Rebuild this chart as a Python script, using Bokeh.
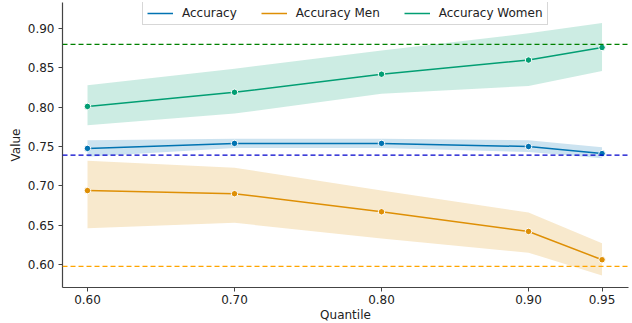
from bokeh.plotting import figure
from bokeh.models import FixedTicker, Legend, LegendItem, Span, NumeralTickFormatter, Range1d
from bokeh.embed import file_html
from bokeh.resources import INLINE

quantiles = [0.60, 0.70, 0.80, 0.90, 0.95]
quantile_labels = ["0.60", "0.70", "0.80", "0.90", "0.95"]

acc = [0.7476, 0.754, 0.754, 0.750, 0.741]
acc_lo = [0.737, 0.748, 0.748, 0.743, 0.735]
acc_hi = [0.758, 0.760, 0.760, 0.758, 0.749]

men = [0.694, 0.690, 0.667, 0.642, 0.606]
men_lo = [0.646, 0.653, 0.633, 0.615, 0.586]
men_hi = [0.732, 0.723, 0.694, 0.666, 0.627]

women = [0.801, 0.819, 0.842, 0.860, 0.876]
women_lo = [0.777, 0.792, 0.817, 0.827, 0.846]
women_hi = [0.828, 0.849, 0.872, 0.894, 0.907]

baseline_acc = 0.739
baseline_men = 0.5975
baseline_women = 0.880

y_ticks = [0.60, 0.65, 0.70, 0.75, 0.80, 0.85, 0.90]

FONT = "DejaVu Sans"
c_acc, c_men, c_women = "#0173b2", "#de8f05", "#029e73"
FRAME_H = 285

p = figure(frame_width=566, frame_height=FRAME_H, output_backend="svg", toolbar_location=None,
           x_range=Range1d(0.583, 0.968), y_range=Range1d(0.5707, 0.9332),
           min_border_left=62, min_border_right=4, min_border_top=2, min_border_bottom=30)
p.outline_line_color = None
p.xgrid.grid_line_color = None
p.ygrid.grid_line_color = None

series = [("Accuracy", acc, acc_lo, acc_hi, c_acc),
          ("Accuracy Men", men, men_lo, men_hi, c_men),
          ("Accuracy Women", women, women_lo, women_hi, c_women)]
items = []
for name, ys, lo, hi, col in series:
    p.varea(x=quantiles, y1=lo, y2=hi, fill_color=col, fill_alpha=0.2)
for name, ys, lo, hi, col in series:
    r = p.line(quantiles, ys, line_color=col, line_width=1.5)
    p.scatter(quantiles, ys, size=6.5, fill_color=col, line_color="white", line_width=1)
    items.append(LegendItem(label=name, renderers=[r]))

for val, col in [(baseline_women, "green"), (baseline_acc, "#0000cc"), (baseline_men, "orange")]:
    p.add_layout(Span(location=val, dimension="width", line_color=col, line_dash="5 3", line_width=1.3))

legend = Legend(items=items, orientation="horizontal", location=(80, FRAME_H - 1 - 22),
                label_text_font=FONT, label_text_font_size="12px", label_text_color="#222222",
                glyph_width=26, glyph_height=14, label_height=14, label_standoff=9, spacing=24,
                padding=4, margin=0,
                border_line_color="#b0b0b0", border_line_width=1, background_fill_alpha=1)
p.add_layout(legend)

p.xaxis.ticker = FixedTicker(ticks=quantiles)
p.xaxis.major_label_overrides = {q: l for q, l in zip(quantiles, quantile_labels)}
p.yaxis.ticker = FixedTicker(ticks=y_ticks)
p.yaxis.formatter = NumeralTickFormatter(format="0.00")
p.xaxis.axis_label = "Quantile"
p.yaxis.axis_label = "Value"
for ax in (p.xaxis, p.yaxis):
    ax.axis_label_text_font = FONT
    ax.axis_label_text_font_style = "normal"
    ax.axis_label_text_font_size = "12px"
    ax.axis_label_text_color = "#222222"
    ax.major_label_text_font = FONT
    ax.major_label_text_font_size = "12px"
    ax.major_label_text_color = "#222222"
    ax.axis_line_color = "#444444"
    ax.axis_line_width = 1.2
    ax.major_tick_line_color = "#444444"
    ax.major_tick_in = 0
    ax.major_tick_out = 4
    ax.minor_tick_line_color = None
p.xaxis.major_label_standoff = 3
p.xaxis.axis_label_standoff = 1
p.yaxis.major_label_standoff = 4
p.yaxis.axis_label_standoff = 2

open("out.html", "w").write(file_html(p, INLINE))
